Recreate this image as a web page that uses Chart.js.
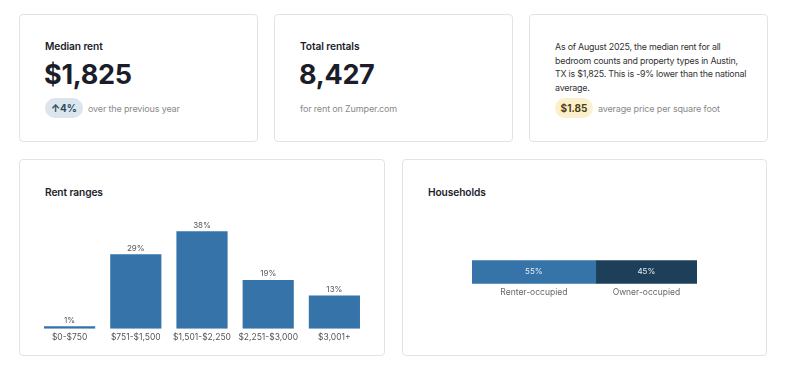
<!DOCTYPE html>
<html>
<head>
<meta charset="utf-8">
<script src="https://cdn.jsdelivr.net/npm/chart.js@4.4.1/dist/chart.umd.min.js"></script>
<style>
  html, body { margin: 0; padding: 0; background: #fff; }
  body { width: 800px; height: 370px; position: relative; font-family: Inter, "Noto Sans", sans-serif; color: #1b1d2a; overflow: hidden; }
  .card { position: absolute; box-sizing: border-box; border: 1px solid #e3e3e3; border-radius: 4px; background: #fff; }
  .title { position: absolute; left: 25px; font-size: 10.2px; font-weight: 600; letter-spacing: -0.1px; }
  .big { position: absolute; left: 24px; top: 43px; font-size: 27px; font-weight: 700; letter-spacing: -0.3px; }
  .note { position: absolute; font-size: 9px; color: #8a8a8a; letter-spacing: -0.15px; }
  .pill { position: absolute; left: 25px; top: 83px; height: 20px; line-height: 20px; border-radius: 10px; font-size: 10px; font-weight: 700; text-align: center; }
  .para { position: absolute; left: 25px; top: 25px; width: 205px; font-size: 8.9px; line-height: 13.5px; color: #333; white-space: nowrap; letter-spacing: -0.22px; }
  canvas { position: absolute; }
</style>
</head>
<body>
  <div class="card" style="left:19px;top:14px;width:239px;height:128px">
    <div class="title" style="top:25px">Median rent</div>
    <div class="big">$1,825</div>
    <div class="pill" style="width:38px;background:#dbe5eb;color:#2b4b5f">&#8593;4%</div>
    <div class="note" style="left:68px;top:88px">over the previous year</div>
  </div>
  <div class="card" style="left:274px;top:14px;width:239px;height:128px">
    <div class="title" style="top:25px">Total rentals</div>
    <div class="big">8,427</div>
    <div class="note" style="left:25px;top:88px">for rent on Zumper.com</div>
  </div>
  <div class="card" style="left:529px;top:14px;width:239px;height:128px">
    <div class="para">As of August 2025, the median rent for all<br>bedroom counts and property types in Austin,<br>TX is $1,825. This is -9% lower than the national<br>average.</div>
    <div class="pill" style="width:38px;background:#fcf0cc;color:#4d3f14">$1.85</div>
    <div class="note" style="left:68px;top:88px">average price per square foot</div>
  </div>
  <div class="card" style="left:19px;top:159px;width:366px;height:197px">
    <div class="title" style="top:26px">Rent ranges</div>
  </div>
  <div class="card" style="left:402px;top:159px;width:365px;height:197px">
    <div class="title" style="top:26px">Households</div>
  </div>
  <canvas id="ranges" width="345" height="143" style="left:30px;top:208px;width:345px;height:143px"></canvas>
  <canvas id="households" width="290" height="70" style="left:440px;top:240px;width:290px;height:70px"></canvas>

<script>
const rangeLabels = ['$0-$750', '$751-$1,500', '$1,501-$2,250', '$2,251-$3,000', '$3,001+'];
const rangeShares = [1, 29, 38, 19, 13];
const householdLabels = ['Renter-occupied', 'Owner-occupied'];
const householdShares = [55, 45];

const BLUE = '#3673a9';
const NAVY = '#1d3f5a';
const FONT = 'Inter, "Noto Sans", sans-serif';

// value labels above the rent-range bars
const topLabels = {
  id: 'topLabels',
  afterDatasetsDraw(chart) {
    const ctx = chart.ctx;
    const meta = chart.getDatasetMeta(0);
    ctx.save();
    ctx.font = '8px ' + FONT;
    ctx.fillStyle = '#555';
    ctx.textAlign = 'center';
    ctx.textBaseline = 'bottom';
    meta.data.forEach((bar, i) => {
      ctx.fillText(rangeShares[i] + '%', bar.x, bar.y - 2);
    });
    ctx.restore();
  }
};

new Chart(document.getElementById('ranges'), {
  type: 'bar',
  data: {
    labels: rangeLabels,
    datasets: [{ data: rangeShares, backgroundColor: BLUE, barPercentage: 0.773, categoryPercentage: 1 }]
  },
  options: {
    responsive: false,
    animation: false,
    layout: { padding: { left: 6.5, right: 7.5, top: 0, bottom: 4 } },
    plugins: { legend: { display: false }, tooltip: { enabled: false } },
    scales: {
      x: {
        grid: { display: false, drawTicks: false },
        border: { display: false },
        ticks: { color: '#555', font: { family: FONT, size: 8.5 }, padding: 4, maxRotation: 0, autoSkip: false }
      },
      y: { display: false, min: 0, max: 47 }
    }
  },
  plugins: [topLabels]
});

// percent inside and names under the household segments
const segLabels = {
  id: 'segLabels',
  afterDatasetsDraw(chart) {
    const ctx = chart.ctx;
    ctx.save();
    ctx.textAlign = 'center';
    ctx.textBaseline = 'middle';
    chart.data.datasets.forEach((ds, i) => {
      const bar = chart.getDatasetMeta(i).data[0];
      const cx = (bar.x + bar.base) / 2;
      ctx.font = '8px ' + FONT;
      ctx.fillStyle = '#e6edf3';
      ctx.fillText(householdShares[i] + '%', cx, bar.y);
      ctx.font = '8.5px ' + FONT;
      ctx.fillStyle = '#666';
      ctx.fillText(householdLabels[i], cx, bar.y + bar.height / 2 + 9);
    });
    ctx.restore();
  }
};

new Chart(document.getElementById('households'), {
  type: 'bar',
  data: {
    labels: ['Households'],
    datasets: [
      { data: [householdShares[0]], backgroundColor: BLUE, barThickness: 23 },
      { data: [householdShares[1]], backgroundColor: NAVY, barThickness: 23 }
    ]
  },
  options: {
    indexAxis: 'y',
    responsive: false,
    animation: false,
    layout: { padding: { left: 32, right: 33, top: 0, bottom: 6 } },
    plugins: { legend: { display: false }, tooltip: { enabled: false } },
    scales: {
      x: { display: false, stacked: true, min: 0, max: 100 },
      y: { display: false, stacked: true }
    }
  },
  plugins: [segLabels]
});
</script>
</body>
</html>
